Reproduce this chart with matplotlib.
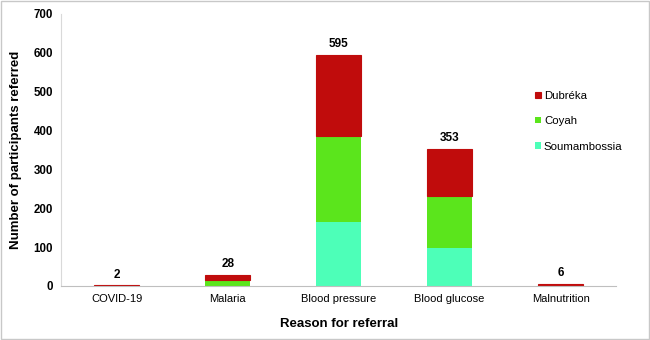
import matplotlib
matplotlib.use("Agg")
import matplotlib.pyplot as plt
import numpy as np

categories = ["COVID-19", "Malaria", "Blood pressure", "Blood glucose", "Malnutrition"]
soumambossia = [0, 1, 165, 98, 0]
coyah = [0, 15, 221, 134, 0]
dubreka = [2, 12, 209, 121, 6]
totals = [2, 28, 595, 353, 6]
yticks = [0, 100, 200, 300, 400, 500, 600, 700]

plt.rcParams['font.family'] = ['Liberation Sans', 'DejaVu Sans']

fig = plt.figure(figsize=(6.5, 3.4), dpi=100)
fig.patch.set_facecolor('white')
ax = fig.add_axes([0.094, 0.159, 0.854, 0.8])

x = np.arange(len(categories))
w = 0.41
c_s, c_c, c_d = '#4DFFB8', '#5BE51C', '#C00C0C'
b1 = ax.bar(x, soumambossia, w, color=c_s, label='Soumambossia')
b2 = ax.bar(x, coyah, w, bottom=soumambossia, color=c_c, label='Coyah')
bottom3 = np.array(soumambossia) + np.array(coyah)
b3 = ax.bar(x, dubreka, w, bottom=bottom3, color=c_d, label='Dubréka', linewidth=0.8,
            edgecolor=c_d)

for xi, t in zip(x, totals):
    ax.text(xi, t + 12, str(t), ha='center', va='bottom', fontsize=8.5, fontweight='bold')

ax.set_xlim(-0.5, 4.5)
ax.set_ylim(0, 700)
ax.set_yticks(yticks)
ax.set_xticks(x)
ax.set_xticklabels(categories, fontsize=8)
for lbl in ax.get_yticklabels():
    lbl.set_fontweight('bold')
    lbl.set_fontsize(8.3)
ax.tick_params(axis='both', length=0, pad=6)
ax.set_ylabel('Number of participants referred', fontsize=9.5, fontweight='bold', labelpad=8)
ax.set_xlabel('Reason for referral', fontsize=9.5, fontweight='bold', labelpad=10)
for s in ['top', 'right']:
    ax.spines[s].set_visible(False)
ax.spines['left'].set_color('#D9D9D9')
ax.spines['bottom'].set_color('#BFBFBF')

handles = [b3, b2, b1]
leg = ax.legend(handles, ['Dubréka', 'Coyah', 'Soumambossia'], loc='upper left',
                bbox_to_anchor=(0.835, 0.755), frameon=False, fontsize=8.2,
                handlelength=0.5, handleheight=0.5, handletextpad=0.3, labelspacing=1.35)

fig.add_artist(plt.Rectangle((0.002, 0.003), 0.996, 0.994, transform=fig.transFigure,
                             fill=False, edgecolor='#C8C8C8', linewidth=1))

fig.savefig('out.png', dpi=100)
